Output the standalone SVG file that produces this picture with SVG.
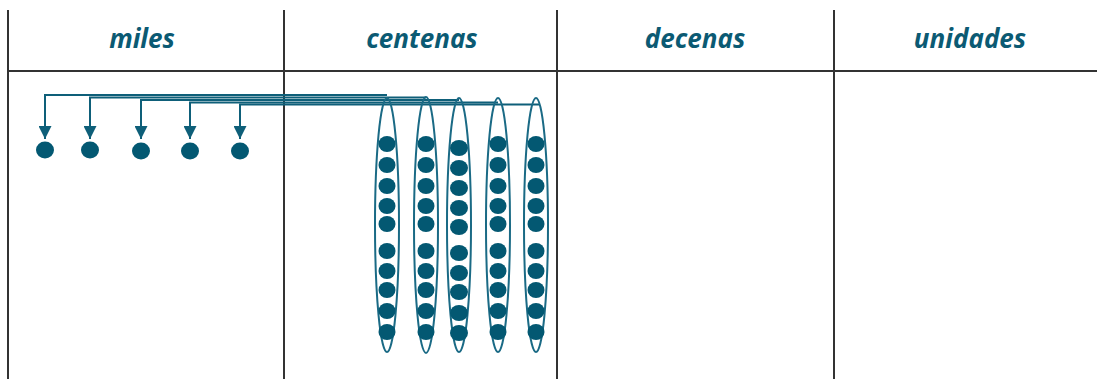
<svg xmlns="http://www.w3.org/2000/svg" width="1097" height="379" viewBox="0 0 1097 379">
<defs>
<style>
.grid{stroke:#333;stroke-width:2;fill:none}
.hdr{font-family:"Open Sans","Liberation Sans",sans-serif;font-weight:bold;font-style:italic;font-size:26px;fill:#0b5a73;text-anchor:middle}
.dot{fill:#035872}
.pod{fill:none;stroke:#1a6a85;stroke-width:2}
.conn{fill:none;stroke:#0e5f79;stroke-width:2}
</style>
<marker id="arr" viewBox="0 0 13 13" refX="13" refY="6.5" markerWidth="13" markerHeight="13" markerUnits="userSpaceOnUse" orient="auto">
<path d="M0,0 L13,6.5 L0,13 Z" fill="#0e5f79"/>
</marker>
</defs>
<rect width="1097" height="379" fill="#fff"/>
<g id="table">
<line class="grid" x1="8" y1="10" x2="8" y2="379"/>
<line class="grid" x1="284" y1="10" x2="284" y2="379"/>
<line class="grid" x1="557" y1="10" x2="557" y2="379"/>
<line class="grid" x1="834" y1="10" x2="834" y2="379"/>
<line class="grid" x1="8" y1="71" x2="1097" y2="71"/>
</g>
<g id="headers">
<text class="hdr" x="142" y="48">miles</text>
<text class="hdr" x="422" y="48">centenas</text>
<text class="hdr" x="695" y="48">decenas</text>
<text class="hdr" x="970" y="48">unidades</text>
</g>
<g id="connectors">
<path class="conn" d="M387,95 H45 V139" marker-end="url(#arr)"/>
<path class="conn" d="M426,97.5 H90 V139" marker-end="url(#arr)"/>
<path class="conn" d="M459,100 H141 V139" marker-end="url(#arr)"/>
<path class="conn" d="M498,102.5 H190 V139" marker-end="url(#arr)"/>
<path class="conn" d="M540,104.5 H240 V139" marker-end="url(#arr)"/>
</g>
<g id="miles-dots">
<ellipse class="dot" cx="45" cy="150" rx="9" ry="8.5"/>
<ellipse class="dot" cx="90" cy="150" rx="9" ry="8.5"/>
<ellipse class="dot" cx="141" cy="151" rx="9" ry="8.5"/>
<ellipse class="dot" cx="190" cy="151" rx="9" ry="8.5"/>
<ellipse class="dot" cx="240" cy="151" rx="9" ry="8.5"/>
</g>
<g id="group1">
<ellipse class="pod" cx="387" cy="225" rx="12" ry="127"/>
<ellipse class="dot" cx="387" cy="144" rx="8.5" ry="8"/>
<ellipse class="dot" cx="387" cy="165" rx="8.5" ry="8"/>
<ellipse class="dot" cx="387" cy="186" rx="8.5" ry="8"/>
<ellipse class="dot" cx="387" cy="206" rx="8.5" ry="8"/>
<ellipse class="dot" cx="387" cy="224" rx="8.5" ry="8"/>
<ellipse class="dot" cx="387" cy="251" rx="8.5" ry="8"/>
<ellipse class="dot" cx="387" cy="271" rx="8.5" ry="8"/>
<ellipse class="dot" cx="387" cy="290" rx="8.5" ry="8"/>
<ellipse class="dot" cx="387" cy="311" rx="8.5" ry="8"/>
<ellipse class="dot" cx="387" cy="332" rx="8.5" ry="8"/>
</g>
<g id="group2">
<ellipse class="pod" cx="426" cy="225" rx="12" ry="128"/>
<ellipse class="dot" cx="426" cy="144" rx="8.5" ry="8"/>
<ellipse class="dot" cx="426" cy="165" rx="8.5" ry="8"/>
<ellipse class="dot" cx="426" cy="186" rx="8.5" ry="8"/>
<ellipse class="dot" cx="426" cy="206" rx="8.5" ry="8"/>
<ellipse class="dot" cx="426" cy="224" rx="8.5" ry="8"/>
<ellipse class="dot" cx="426" cy="251" rx="8.5" ry="8"/>
<ellipse class="dot" cx="426" cy="271" rx="8.5" ry="8"/>
<ellipse class="dot" cx="426" cy="290" rx="8.5" ry="8"/>
<ellipse class="dot" cx="426" cy="311" rx="8.5" ry="8"/>
<ellipse class="dot" cx="426" cy="332" rx="8.5" ry="8"/>
</g>
<g id="group3">
<ellipse class="pod" cx="459" cy="225" rx="12" ry="127"/>
<ellipse class="dot" cx="459" cy="148" rx="9" ry="8"/>
<ellipse class="dot" cx="459" cy="168" rx="9" ry="8"/>
<ellipse class="dot" cx="459" cy="188" rx="9" ry="8"/>
<ellipse class="dot" cx="459" cy="208" rx="9" ry="8"/>
<ellipse class="dot" cx="459" cy="227" rx="9" ry="8"/>
<ellipse class="dot" cx="459" cy="253" rx="9" ry="8"/>
<ellipse class="dot" cx="459" cy="273" rx="9" ry="8"/>
<ellipse class="dot" cx="459" cy="292" rx="9" ry="8"/>
<ellipse class="dot" cx="459" cy="313" rx="9" ry="8"/>
<ellipse class="dot" cx="459" cy="333" rx="9" ry="8"/>
</g>
<g id="group4">
<ellipse class="pod" cx="498" cy="225" rx="12" ry="127"/>
<ellipse class="dot" cx="498" cy="144" rx="8.5" ry="8"/>
<ellipse class="dot" cx="498" cy="165" rx="8.5" ry="8"/>
<ellipse class="dot" cx="498" cy="186" rx="8.5" ry="8"/>
<ellipse class="dot" cx="498" cy="206" rx="8.5" ry="8"/>
<ellipse class="dot" cx="498" cy="224" rx="8.5" ry="8"/>
<ellipse class="dot" cx="498" cy="251" rx="8.5" ry="8"/>
<ellipse class="dot" cx="498" cy="271" rx="8.5" ry="8"/>
<ellipse class="dot" cx="498" cy="290" rx="8.5" ry="8"/>
<ellipse class="dot" cx="498" cy="311" rx="8.5" ry="8"/>
<ellipse class="dot" cx="498" cy="332" rx="8.5" ry="8"/>
</g>
<g id="group5">
<ellipse class="pod" cx="536" cy="225" rx="12" ry="127"/>
<ellipse class="dot" cx="536" cy="144" rx="8.5" ry="8"/>
<ellipse class="dot" cx="536" cy="165" rx="8.5" ry="8"/>
<ellipse class="dot" cx="536" cy="186" rx="8.5" ry="8"/>
<ellipse class="dot" cx="536" cy="206" rx="8.5" ry="8"/>
<ellipse class="dot" cx="536" cy="224" rx="8.5" ry="8"/>
<ellipse class="dot" cx="536" cy="251" rx="8.5" ry="8"/>
<ellipse class="dot" cx="536" cy="271" rx="8.5" ry="8"/>
<ellipse class="dot" cx="536" cy="290" rx="8.5" ry="8"/>
<ellipse class="dot" cx="536" cy="311" rx="8.5" ry="8"/>
<ellipse class="dot" cx="536" cy="332" rx="8.5" ry="8"/>
</g>
</svg>
